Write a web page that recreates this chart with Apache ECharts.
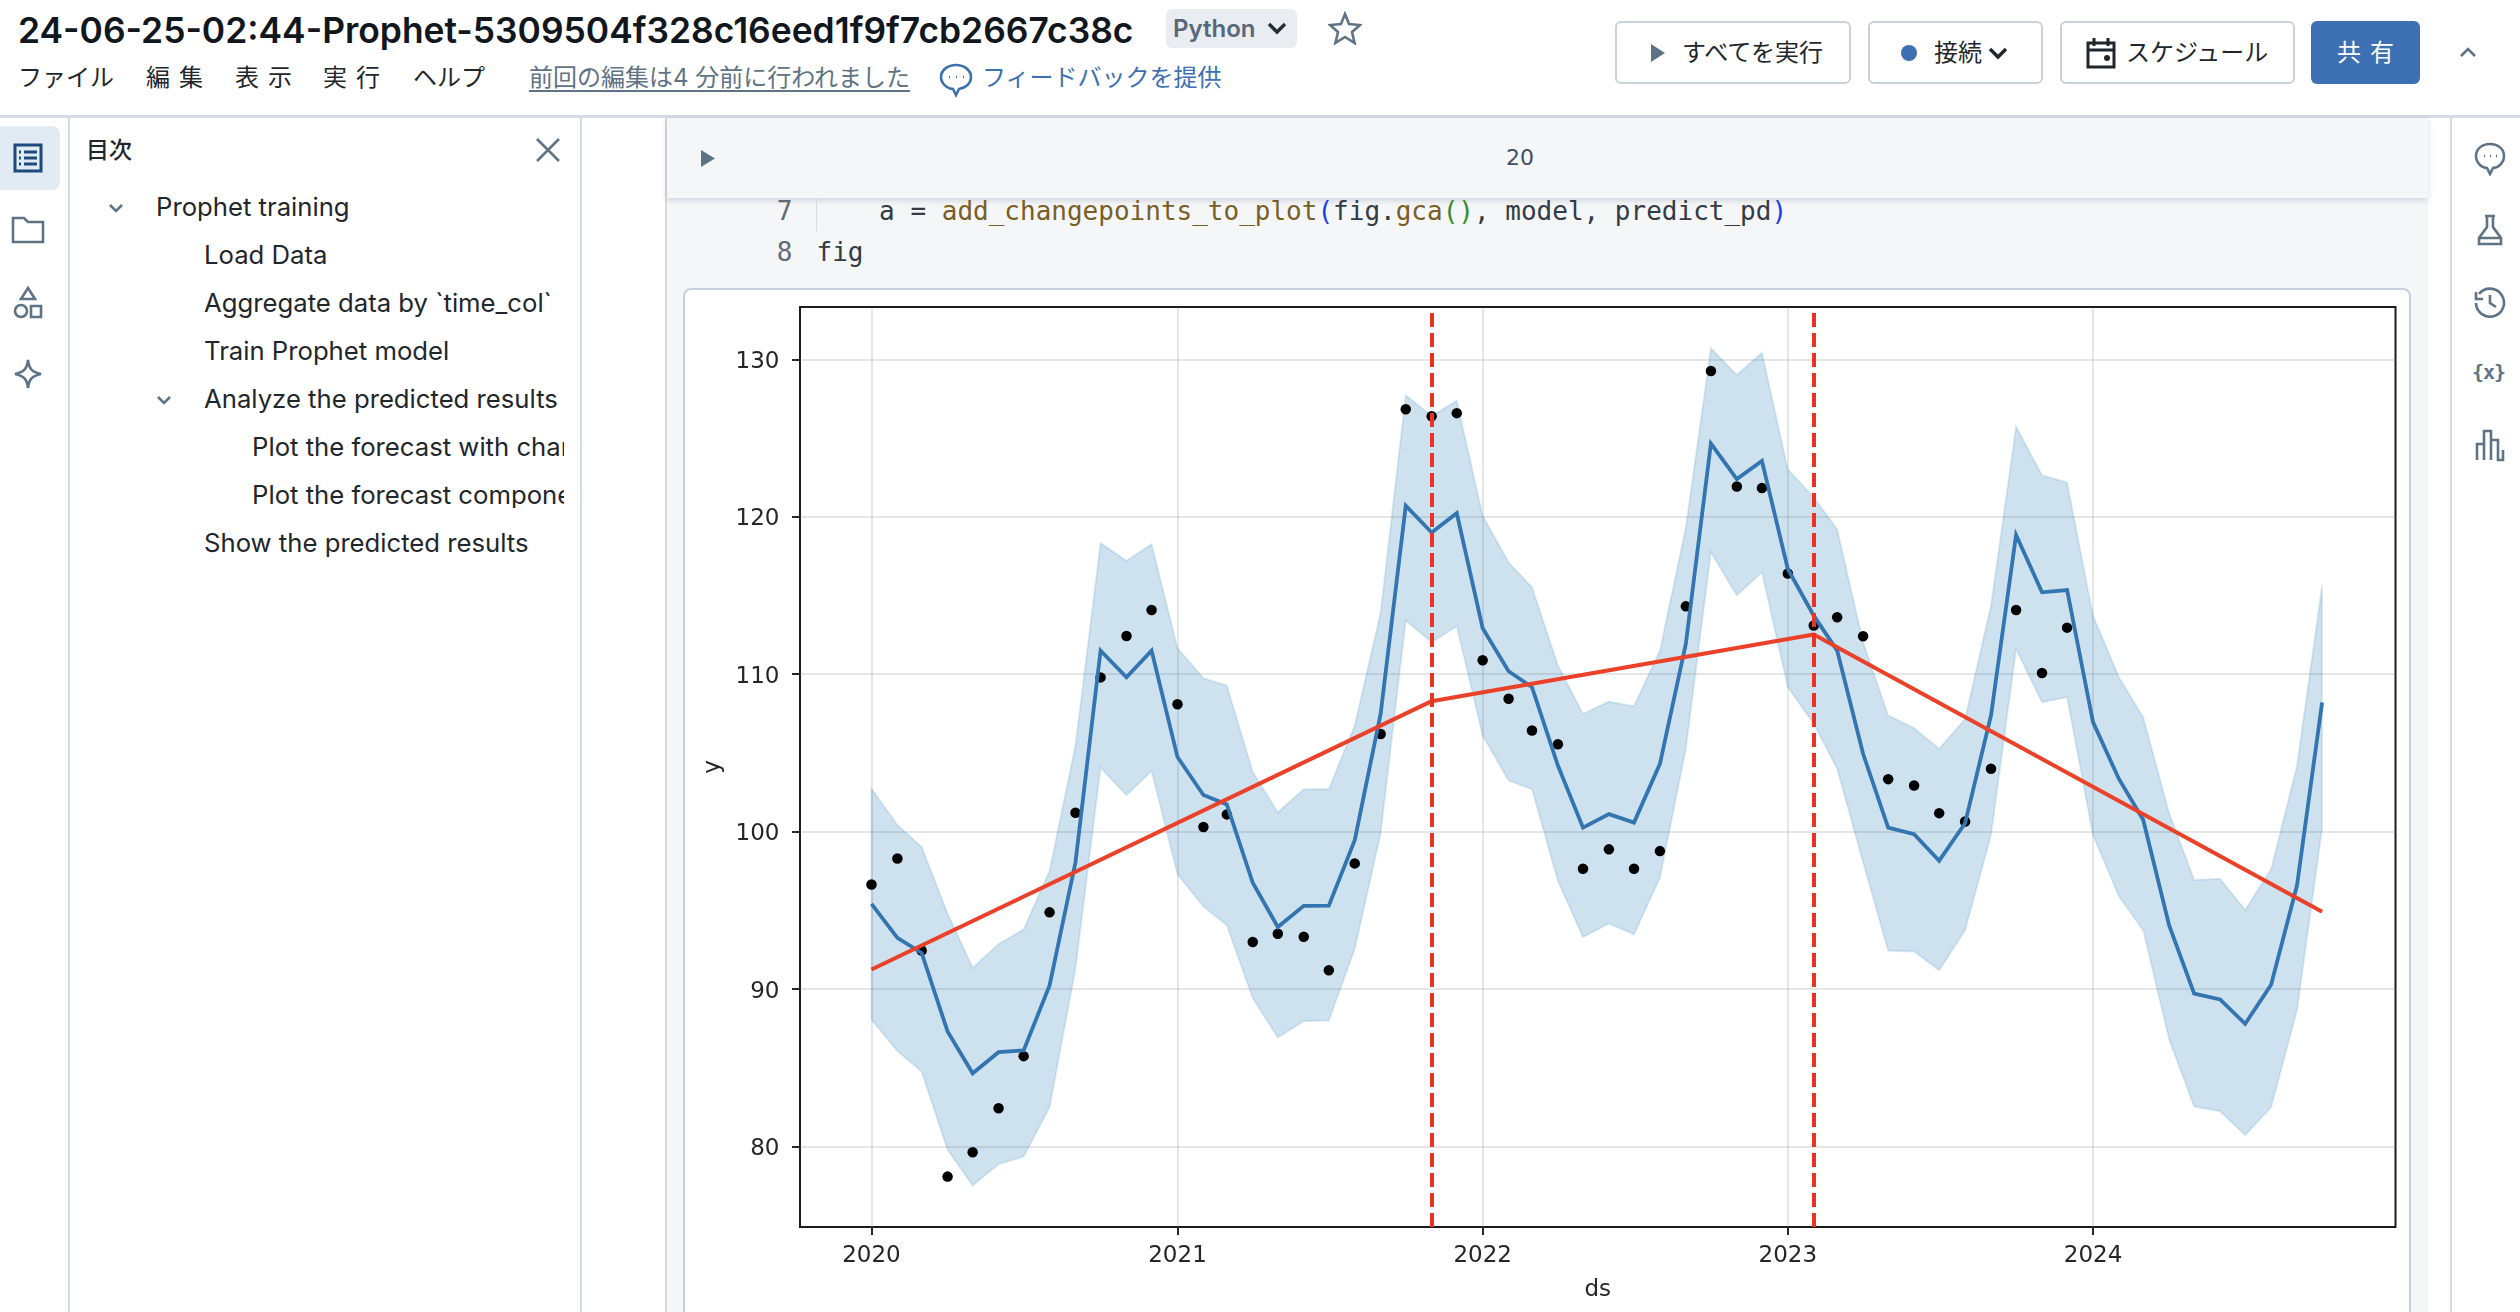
<!DOCTYPE html>
<html>
<head>
<meta charset="utf-8">
<script src="https://cdn.jsdelivr.net/npm/echarts@6/dist/echarts.min.js"></script>
<style>
  html, body { margin: 0; padding: 0; width: 2520px; height: 1312px; overflow: hidden; background: #fff; }
  body { position: relative; font-family: Inter, "Noto Sans CJK JP", sans-serif; color: #1f272d; }
  .box, .t, svg { position: absolute; }
  .t { white-space: nowrap; line-height: 1; }
  .jp { font-family: Inter, "Noto Sans CJK JP", sans-serif; }
  .btn { box-sizing: border-box; top: 21px; height: 63px; border: 2px solid #c8d2dc; border-radius: 6px; background: #fff; }
  .toc { font-size: 25.7px; color: #1f272d; }
  .code { font-family: "DejaVu Sans Mono", monospace; font-size: 26px; color: #333b44; }
  svg { fill: none; stroke: #5f7387; stroke-width: 2.6; }
</style>
</head>
<body>
<!-- page chrome -->
<div class="box" style="left:665px;top:117px;width:1763px;height:1195px;background:#f5f6f8;"></div>
<div class="box" style="left:0;top:115px;width:2520px;height:3px;background:#d6dbe3;"></div>
<div class="box" style="left:68px;top:118px;width:2px;height:1194px;background:#d6dbe3;"></div>
<div class="box" style="left:580px;top:118px;width:2px;height:1194px;background:#d6dbe3;"></div>
<div class="box" style="left:665px;top:118px;width:2px;height:1194px;background:#d6dbe3;"></div>
<div class="box" style="left:2450px;top:118px;width:2px;height:1194px;background:#d6dbe3;"></div>

<!-- title bar -->
<div class="t" style="left:18px;top:13px;font-size:35.4px;font-weight:600;color:#11171c;" id="nbTitle">24-06-25-02:44-Prophet-5309504f328c16eed1f9f7cb2667c38c</div>
<div class="box" style="left:1166px;top:9px;width:131px;height:39px;background:#e9ecf1;border-radius:6px;"></div>
<div class="t" style="left:1173px;top:17px;font-size:24px;font-weight:600;color:#56687a;">Python</div>
<svg style="left:1266px;top:20px;" width="22" height="18" viewBox="0 0 22 18"><path d="M3 4l8 8 8-8" style="stroke:#23303c;stroke-width:3.4"/></svg>
<svg style="left:1328px;top:11px;" width="34" height="34" viewBox="0 0 34 34"><path d="M17 3l4 10 11 1-8 7 2.6 11L17 26l-9.6 6L10 21l-8-7 11-1z"/></svg>

<div class="t jp" style="left:18px;top:66px;font-size:24px;">ファイル</div>
<div class="t jp" style="left:146px;top:66px;font-size:24px;letter-spacing:9px;">編集</div>
<div class="t jp" style="left:235px;top:66px;font-size:24px;letter-spacing:9px;">表示</div>
<div class="t jp" style="left:323px;top:66px;font-size:24px;letter-spacing:9px;">実行</div>
<div class="t jp" style="left:413px;top:66px;font-size:24px;">ヘルプ</div>
<div class="t jp" style="left:529px;top:66px;font-size:24px;color:#5f7387;text-decoration:underline;text-underline-offset:4px;">前回の編集は4 分前に行われました</div>
<svg style="left:938px;top:62px;" width="36" height="36" viewBox="0 0 36 36"><path d="M18 3c-8 0-15 5-15 12s7 12 12 12l3 6 3-6c6-1 12-5 12-12S26 3 18 3z" style="stroke:#3d70b2"/><path d="M11 15h1M18 15h1M25 15h1" style="stroke:#3d70b2"/></svg>
<div class="t jp" style="left:982px;top:66px;font-size:24px;color:#3d70b2;">フィードバックを提供</div>

<!-- toolbar buttons -->
<div class="box btn" style="left:1615px;width:236px;"></div>
<svg style="left:1650px;top:43px;" width="16" height="20" viewBox="0 0 16 20"><path d="M1 1l14 9-14 9z" style="fill:#5f7387;stroke:none"/></svg>
<div class="t jp" style="left:1682px;top:41px;font-size:24px;">すべてを実行</div>
<div class="box btn" style="left:1868px;width:175px;"></div>
<div class="box" style="left:1901px;top:45px;width:16px;height:16px;border-radius:8px;background:#3d70b2;"></div>
<div class="t jp" style="left:1934px;top:41px;font-size:24px;">接続</div>
<svg style="left:1988px;top:46px;" width="20" height="15" viewBox="0 0 20 15"><path d="M2 3l8 8 8-8" style="stroke:#1f272d;stroke-width:3.4"/></svg>
<div class="box btn" style="left:2060px;width:235px;"></div>
<svg style="left:2086px;top:37px;" width="30" height="32" viewBox="0 0 30 32"><path d="M2 6h26v24H2zM2 13h26M8 1v8M22 1v8" style="stroke:#1f272d;stroke-width:3"/><circle cx="21" cy="21" r="3" style="fill:#1f272d;stroke:none"/></svg>
<div class="t jp" style="left:2126px;top:41px;font-size:24px;">スケジュール</div>
<div class="box" style="left:2311px;top:21px;width:109px;height:63px;background:#3d70b2;border-radius:6px;"></div>
<div class="t jp" style="left:2337px;top:41px;font-size:24px;color:#fff;letter-spacing:9px;">共有</div>
<svg style="left:2459px;top:46px;" width="18" height="12" viewBox="0 0 18 12"><path d="M2 10l7-7 7 7"/></svg>

<!-- left rail -->
<div class="box" style="left:0;top:126px;width:60px;height:64px;background:#e2eaf4;border-radius:0 8px 8px 0;"></div>
<svg style="left:13px;top:143px;" width="30" height="30" viewBox="0 0 30 30"><path d="M2 2h26v26H2zM11 9h13M11 15h13M11 21h13M6 9h2M6 15h2M6 21h2" style="stroke:#1d4a7c;stroke-width:3"/></svg>
<svg style="left:11px;top:216px;" width="34" height="28" viewBox="0 0 34 28"><path d="M2 2h11l4 4h15v20H2z"/></svg>
<svg style="left:13px;top:286px;" width="30" height="34" viewBox="0 0 30 34"><path d="M15 2l7 11H8zM18 20h10v11H18z"/><circle cx="8" cy="25" r="6"/></svg>
<svg style="left:13px;top:358px;" width="30" height="32" viewBox="0 0 30 32"><path d="M15 2c1 9 4 12 13 14-9 2-12 5-13 14-1-9-4-12-13-14 9-2 12-5 13-14z"/></svg>

<!-- table of contents -->
<div class="t jp" style="left:86px;top:139px;font-size:23px;font-weight:500;">目次</div>
<svg style="left:536px;top:138px;" width="24" height="24" viewBox="0 0 24 24"><path d="M1 1l22 22M23 1L1 23"/></svg>
<svg style="left:108px;top:203px;" width="16" height="11" viewBox="0 0 16 11"><path d="M2 2l6 6 6-6"/></svg>
<svg style="left:156px;top:395px;" width="16" height="11" viewBox="0 0 16 11"><path d="M2 2l6 6 6-6"/></svg>
<div class="t toc" style="left:156px;top:194px;">Prophet training</div>
<div class="t toc" style="left:204px;top:242px;">Load Data</div>
<div class="t toc" style="left:204px;top:290px;">Aggregate data by `time_col`</div>
<div class="t toc" style="left:204px;top:338px;">Train Prophet model</div>
<div class="t toc" style="left:204px;top:386px;">Analyze the predicted results</div>
<div class="t toc" style="left:252px;top:434px;width:312px;overflow:hidden;">Plot the forecast with changepoints</div>
<div class="t toc" style="left:252px;top:482px;width:312px;overflow:hidden;">Plot the forecast components</div>
<div class="t toc" style="left:204px;top:530px;">Show the predicted results</div>

<!-- cell header and code -->
<div class="box" style="left:667px;top:118px;width:1761px;height:80px;background:#f5f6f8;box-shadow:0 2px 6px rgba(60,70,90,.22);"></div>
<svg style="left:700px;top:149px;" width="16" height="19" viewBox="0 0 16 19"><path d="M1 1l14 8.5L1 18z" style="fill:#5f7387;stroke:none"/></svg>
<div class="t" style="left:1506px;top:147px;font-family:'DejaVu Sans',sans-serif;font-size:22px;color:#41505e;">20</div>
<div class="box" style="left:816px;top:199px;width:1px;height:32px;background:#d6dbe3;"></div>
<div class="t code" style="left:761px;top:198px;color:#5f6b78;">&nbsp;7</div>
<div class="t code" style="left:761px;top:239px;color:#5f6b78;">&nbsp;8</div>
<div class="t code" style="left:816.5px;top:198px;white-space:pre;">    a = <span style="color:#795e26">add_changepoints_to_plot</span><span style="color:#1a3fe0">(</span>fig.<span style="color:#795e26">gca</span><span style="color:#3a8a2a">()</span>, model, predict_pd<span style="color:#1a3fe0">)</span></div>
<div class="t code" style="left:816.5px;top:239px;">fig</div>

<!-- output card -->
<div class="box" style="box-sizing:border-box;left:683px;top:288px;width:1728px;height:1040px;background:#fff;border:2px solid #c5d0de;border-radius:8px;"></div>
<div id="chart" class="box" style="left:685px;top:290px;width:1724px;height:1022px;"></div>

<!-- right rail -->
<svg style="left:2474px;top:142px;" width="32" height="34" viewBox="0 0 32 34"><path d="M16 2C8 2 2 7 2 14s6 12 11 12l3 6 3-6c5 0 11-5 11-12S24 2 16 2z"/><path d="M10 14h1M16 14h1M22 14h1"/></svg>
<svg style="left:2476px;top:214px;" width="28" height="32" viewBox="0 0 28 32"><path d="M9 2h10M11 2v11L3 24v6h22v-6l-8-11V2M3 24h22"/></svg>
<svg style="left:2474px;top:286px;" width="32" height="32" viewBox="0 0 32 32"><path d="M5 8a14 14 0 1 1-3 9M2 6v7h7M16 9v8l6 4"/></svg>
<div class="t" style="left:2472px;top:362px;font-family:'DejaVu Sans Mono',monospace;font-size:20px;font-weight:700;color:#5f7387;letter-spacing:-1px;">{x}</div>
<svg style="left:2475px;top:428px;" width="30" height="34" viewBox="0 0 30 34"><path d="M2 32V16h7v16M9 32V3h7v29M16 32V12h7v20h5V22"/></svg>

<script>
// monthly dates of the forecast frame
const months = [
  '2020-01-01','2020-02-01','2020-03-01','2020-04-01','2020-05-01','2020-06-01','2020-07-01','2020-08-01','2020-09-01','2020-10-01','2020-11-01','2020-12-01',
  '2021-01-01','2021-02-01','2021-03-01','2021-04-01','2021-05-01','2021-06-01','2021-07-01','2021-08-01','2021-09-01','2021-10-01','2021-11-01','2021-12-01',
  '2022-01-01','2022-02-01','2022-03-01','2022-04-01','2022-05-01','2022-06-01','2022-07-01','2022-08-01','2022-09-01','2022-10-01','2022-11-01','2022-12-01',
  '2023-01-01','2023-02-01','2023-03-01','2023-04-01','2023-05-01','2023-06-01','2023-07-01','2023-08-01','2023-09-01','2023-10-01','2023-11-01','2023-12-01',
  '2024-01-01','2024-02-01','2024-03-01','2024-04-01','2024-05-01','2024-06-01','2024-07-01','2024-08-01','2024-09-01','2024-10-01'
];
const actual = [
  96.65, 98.3, 92.46, 78.1, 79.65, 82.44, 85.75, 94.88, 101.2, 109.8, 112.43, 114.08,
  108.1, 100.3, 101.1, 93.0, 93.52, 93.33, 91.2, 97.99, 106.2, 126.83, 126.38, 126.58,
  110.89, 108.44, 106.43, 105.56, 97.65, 98.88, 97.65, 98.77, 114.31, 129.26, 121.92, 121.82,
  116.4, 113.09, 113.62, 112.41, 103.34, 102.94, 101.18, 100.65, 104.0, 114.08, 110.08, 112.96
];
const yhat = [
  95.42, 93.26, 92.3, 87.32, 84.66, 86.0, 86.11, 90.24, 98.06, 111.5, 109.81, 111.5,
  104.74, 102.33, 101.73, 96.76, 93.95, 95.29, 95.31, 99.46, 107.5, 120.7, 119.0, 120.23,
  112.92, 110.19, 109.18, 104.2, 100.26, 101.12, 100.58, 104.31, 111.92, 124.65, 122.39, 123.55,
  116.68, 113.72, 111.5, 104.95, 100.26, 99.85, 98.16, 100.54, 107.38, 118.84, 115.2, 115.35,
  106.96, 103.35, 100.76, 94.06, 89.72, 89.35, 87.8, 90.28, 96.6, 108.2
];
const yhatUpper = [
  102.74, 100.43, 99.03, 94.8, 91.36, 92.87, 93.8, 97.52, 105.5, 118.33, 117.2, 118.27,
  111.65, 109.75, 109.28, 103.8, 101.23, 102.7, 102.7, 106.74, 113.93, 127.72, 126.4, 127.36,
  120.06, 117.1, 115.52, 110.55, 107.48, 108.27, 107.97, 111.5, 119.32, 130.7, 129.0, 130.42,
  123.02, 121.23, 119.2, 112.03, 107.38, 106.58, 105.27, 107.17, 114.35, 125.72, 122.64, 122.18,
  113.72, 109.81, 107.27, 101.19, 96.93, 97.02, 95.03, 97.62, 104.2, 115.62
];
const yhatLower = [
  88.06, 86.07, 84.77, 79.81, 77.54, 78.88, 79.37, 82.5, 91.3, 104.06, 102.31, 103.85,
  97.3, 95.25, 94.06, 89.42, 86.93, 87.97, 88.01, 92.55, 99.9, 113.4, 112.03, 113.04,
  106.11, 103.26, 102.7, 96.87, 93.3, 94.17, 93.48, 97.08, 105.26, 117.74, 115.0, 116.47,
  109.18, 106.85, 104.0, 98.06, 92.44, 92.4, 91.2, 93.74, 99.78, 111.6, 108.22, 108.54,
  99.78, 95.9, 93.74, 86.83, 82.55, 82.25, 80.73, 82.5, 88.66, 100.2
];
const trendDates = ['2020-01-01', '2021-11-01', '2023-02-01', '2024-10-01'];
const trendValues = [91.25, 108.29, 112.52, 94.92];
const changepoints = ['2021-11-01', '2023-02-01'];
const yearTicks = ['2020-01-01', '2021-01-01', '2022-01-01', '2023-01-01', '2024-01-01'];
const valueTicks = [80, 90, 100, 110, 120, 130];

const pairs = (xs, ys) => ys.map((y, i) => [Date.parse(xs[i]), y]);
const yearValues = yearTicks.map((d) => Date.parse(d));
const textStyle = { fontFamily: 'DejaVu Sans', fontSize: 23, color: '#262626' };
const gridLine = { show: true, lineStyle: { color: 'rgba(128,128,128,0.2)', width: 2 } };
const axisTick = { show: true, length: 8, lineStyle: { color: '#262626', width: 2 } };

// uncertainty band: one polygon, upper edge then lower edge reversed
const upperPts = pairs(months, yhatUpper);
const lowerPts = pairs(months, yhatLower).reverse();
const renderBand = (params, api) => ({
  type: 'polygon',
  shape: { points: upperPts.concat(lowerPts).map((p) => api.coord(p)) },
  style: { fill: 'rgba(10,105,170,0.2)', stroke: 'rgba(10,105,170,0.12)', lineWidth: 2 },
});

echarts.init(document.getElementById('chart')).setOption({
  animation: false,
  grid: { left: 115, top: 17, width: 1595.5, height: 920, show: true, borderColor: '#1c1c1c', borderWidth: 2, backgroundColor: 'transparent' },
  xAxis: {
    type: 'value',
    min: Date.parse('2019-10-07T12:00:00Z'),
    max: Date.parse('2024-12-27T19:00:00Z'),
    name: 'ds',
    nameLocation: 'middle',
    nameGap: 52,
    nameTextStyle: textStyle,
    axisLine: { show: false },
    axisTick: { ...axisTick, customValues: yearValues },
    axisLabel: { ...textStyle, margin: 18, customValues: yearValues, formatter: (v) => String(new Date(v).getUTCFullYear()) },
    splitLine: gridLine,
  },
  yAxis: {
    type: 'value',
    min: 74.9,
    max: 133.32,
    name: 'y',
    nameLocation: 'middle',
    nameGap: 75,
    nameTextStyle: textStyle,
    axisLine: { show: false },
    axisTick: { ...axisTick, customValues: valueTicks },
    axisLabel: { ...textStyle, margin: 20.5, verticalAlign: 'top', lineHeight: 5, customValues: valueTicks },
    splitLine: gridLine,
  },
  series: [
    {
      type: 'custom', name: 'band', data: [upperPts[0]], renderItem: renderBand, z: 1, silent: true,
    },
    {
      type: 'scatter', name: 'actual', data: pairs(months, actual), symbol: 'circle', symbolSize: 10.5, z: 2,
      itemStyle: { color: '#000', opacity: 1 },
    },
    {
      type: 'line', name: 'yhat', data: pairs(months, yhat), symbol: 'none', z: 3,
      lineStyle: { color: '#3275b0', width: 3.8, join: 'miter' },
    },
    {
      type: 'line', name: 'trend', data: pairs(trendDates, trendValues), symbol: 'none', z: 4,
      lineStyle: { color: '#ea4128', width: 4 },
      markLine: {
        silent: true, symbol: 'none', label: { show: false },
        lineStyle: { color: '#ea3323', width: 4, type: [14, 6] },
        data: changepoints.map((d) => ({ xAxis: Date.parse(d) })),
      },
    },
  ],
});
</script>
</body>
</html>
